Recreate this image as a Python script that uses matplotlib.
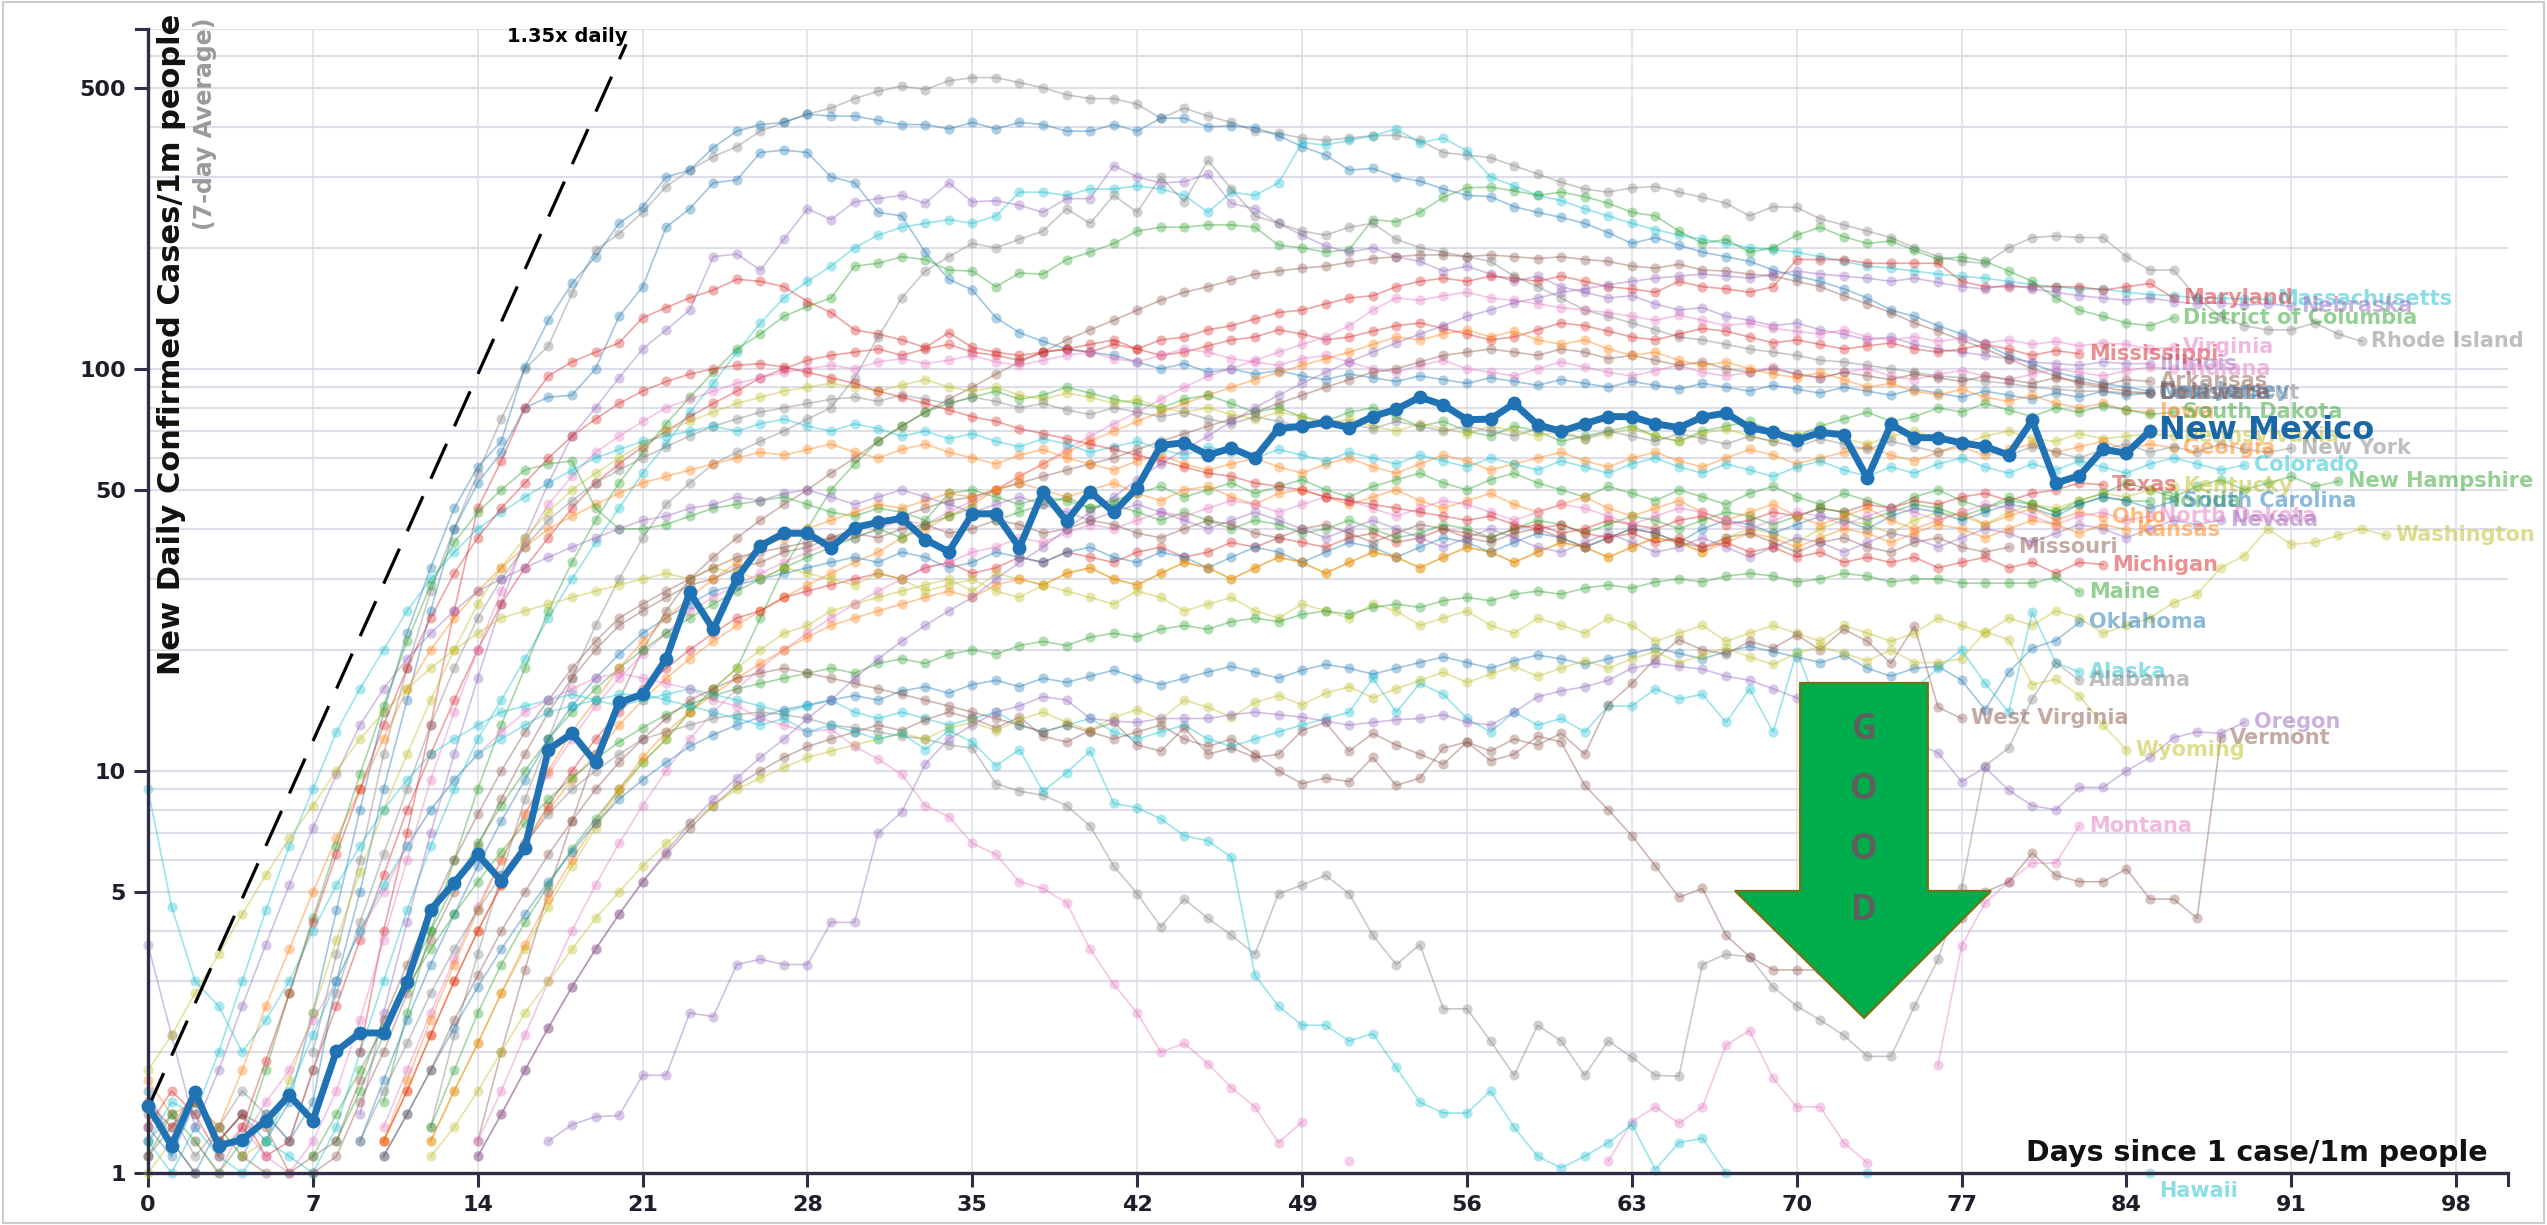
import numpy as np
import matplotlib
matplotlib.use("Agg")
import matplotlib.pyplot as plt
from matplotlib.patches import Polygon, Rectangle
from matplotlib.ticker import FixedLocator, NullFormatter

nan = np.nan

# New daily confirmed cases per 1m people (7-day average), index = days since 1 case/1m
new_mexico = [
    1.47, 1.17, 1.59, 1.17, 1.21, 1.35, 1.56, 1.35, 2.01, 2.23,
    2.23, 2.99, 4.51, 5.27, 6.2, 5.33, 6.43, 11.3, 12.4, 10.5,
    14.8, 15.5, 19.0, 27.8, 22.5, 30.1, 36.3, 39.0, 39.0, 35.9,
    40.3, 41.5, 42.5, 37.6, 35.1, 43.6, 43.6, 35.9, 49.5, 41.8,
    49.5, 44.0, 50.6, 64.5, 65.5, 61.0, 63.5, 60.0, 71.0, 72.0,
    73.6, 71.4, 76.1, 79.3, 85.0, 81.3, 74.7, 75.0, 82.0, 72.6,
    69.9, 73.0, 76.1, 76.0, 73.0, 71.4, 75.9, 77.6, 71.4, 69.5,
    66.4, 69.5, 68.5, 53.5, 72.7, 67.4, 67.4, 65.4, 64.1, 61.0,
    74.4, 52.0, 54.2, 63.0, 61.7, 70.1]

rhode_island = [nan] * 7 + [
    2.0, 3.5, 6, 11, 18, 28, 40, 55, 75, 100,
    114, 154, 197, 217, 245, 284, 312, 337, 357, 390,
    410, 430, 445, 470, 490, 505, 495, 520, 530, 530,
    515, 500, 480, 470, 470, 455, 420, 445, 425, 410,
    390, 385, 375, 370, 375, 380, 381, 370, 345, 340,
    335, 320, 305, 291, 280, 275, 282, 284, 275, 267,
    258, 240, 253, 252, 236, 228, 220, 212, 200, 190,
    185, 183, 200, 212, 214, 212, 212, 190, 176, 176,
    150, 135, 128, 125, 125, 130, 122, 117]
new_jersey = [1.3, 1.1, 1.5, 1.2, 1.4, 1.2] + [
    1.5, 2.5, 4.5, 8, 14, 22, 32, 45, 57, 66,
    101, 132, 163, 190, 230, 253, 300, 312, 355, 390,
    405, 410, 430, 425, 425, 415, 405, 405, 395, 410,
    395, 410, 405, 390, 390, 405, 390, 420, 420, 400,
    402, 398, 380, 357, 340, 312, 315, 300, 293, 280,
    270, 268, 253, 245, 238, 230, 218, 205, 212, 203,
    195, 190, 185, 176, 170, 165, 158, 150, 140, 135,
    128, 122, 115, 108, 103, 98, 95, 92, 90, 88]
louisiana = [1.6, 1.2, 1.0, 1.3, 1.1, 1.4, 1.2] + [
    1.5, 3, 5, 9, 15, 25, 40, 52, 62, 80,
    85, 86, 100, 135, 160, 225, 250, 290, 295, 345,
    350, 345, 300, 290, 245, 240, 195, 167, 157, 134,
    123, 117, 112, 110, 108,
    104, 100, 103, 98, 100, 97, 99, 96, 94, 97,
    95, 93, 96, 94, 92, 95, 93, 91, 94, 92,
    90, 93, 91, 89, 92, 90, 88, 91, 89, 87,
    90, 88, 86, 89, 87, 85, 88, 86, 84, 87,
    85, 88, 86, 87]
massachusetts = [1.2, 1.0, 1.3, 1.1, 1.0, 1.2, 1.1, 1.0] + [
    1.3, 2, 3, 4.5, 6.5, 9, 12, 15, 19, 24,
    30, 37, 45, 55, 65, 78, 92, 110, 130, 150,
    165, 180, 200, 215, 225, 230, 235, 230, 240, 275,
    275, 270, 280, 280, 285, 280, 270, 245, 275, 270,
    290, 365, 360, 370, 380, 395, 365, 375, 348, 300,
    285, 270, 262, 250, 240, 230, 222, 215, 210, 205,
    200, 198, 195, 190, 185, 180, 178, 175, 172, 170,
    168, 165, 162, 160, 158, 158, 155, 153, 152, 150,
    150, 149, 149]
district_of_columbia = [nan] * 10 + [
    1.5, 2.5, 4, 6, 9, 13, 18, 25, 33, 42,
    52, 62, 73, 85, 98, 112, 122, 135, 143, 150,
    180, 183, 190, 187, 176, 175, 160, 173, 172, 187,
    195, 205, 220, 225, 225, 228, 228, 225, 203, 200,
    195, 198, 235, 232, 245, 267, 282, 283, 277, 270,
    275, 268, 258, 245, 240, 220, 205, 210, 195, 200,
    215, 225, 213, 205, 208, 197, 187, 190, 185, 175,
    165, 150, 140, 135, 130, 128, 134]
illinois = [nan] * 9 + [
    1.4, 2.5, 4.2, 7, 11, 17, 26, 38, 52, 68,
    80, 95, 112, 125, 140, 190, 193, 176, 210, 250,
    235, 260, 265, 270, 258, 290, 260, 262, 255, 245,
    265, 265, 320, 300, 290, 292, 305, 258, 250, 230,
    215, 202, 195, 200, 190, 185, 175, 180, 172, 165,
    170, 160, 155, 150, 152, 145, 140, 142, 135, 132,
    128, 130, 125, 122, 118, 120, 115, 112, 110, 108,
    106, 104, 103, 102, 104, 103, 103]
maryland = [nan] * 9 + [
    2.0, 4, 7, 13, 25, 45, 59, 80, 96, 104,
    110, 116, 134, 142, 150, 157, 167, 165, 160, 147,
    138, 125, 122, 118, 113, 123, 113, 110, 108, 110,
    112, 110, 115, 112, 118, 120, 125, 128, 133, 138,
    140, 145, 150, 152, 160, 165, 168, 165, 170, 168,
    165, 170, 165, 160, 158, 155, 165, 160, 158, 155,
    160, 187, 187, 187, 183, 183, 183, 183, 165, 160,
    160, 160, 160, 160, 157, 160, 163, 150]
connecticut = [nan] * 12 + [
    1.3, 2.2, 3.5, 5.5, 8.5, 12, 17, 23, 30, 38,
    46, 52, 58, 62, 66, 70, 75, 80, 95, 120,
    150, 175, 190, 205, 200, 210, 220, 250, 230, 270,
    245, 300, 260, 330, 280, 240, 230, 220, 215, 225,
    230, 210, 200, 195, 190, 185, 170, 160, 150, 140,
    135, 130, 125, 120, 118, 115, 112, 110, 108, 105,
    104, 102, 100, 98, 96, 95, 93, 92, 90, 89,
    88, 88, 87, 87]
delaware = [nan] * 14 + [
    1.2, 2, 3.2, 5, 7.5, 11, 15, 20, 25, 30,
    34, 38, 42, 46, 50, 55, 60, 66, 72, 78,
    84, 90, 97, 104, 110, 118, 125, 132, 140, 148,
    155, 160, 166, 172, 175, 178, 180, 184, 188, 190,
    192, 192, 190, 192, 190, 188, 190, 187, 185, 180,
    178, 182, 176, 175, 172, 170, 165, 160, 152, 145,
    138, 130, 124, 118, 112, 106, 100, 96, 92, 90,
    88, 87]
mississippi = [1.5, 1.3, 1.6, 1.2, 1.4, 1.1] + [
    1.2, 1.8, 2.6, 3.8, 5.5, 8, 11, 15, 20, 26,
    32, 38, 45, 52, 58, 64, 70, 76, 82, 88,
    95, 100, 105, 108, 110, 112, 108, 112, 115, 110,
    108, 105, 110, 112, 115, 118, 112, 108, 110, 114,
    118, 120, 125, 122, 118, 120, 124, 128, 130, 126,
    122, 118, 120, 125, 130, 128, 124, 120, 118, 122,
    126, 124, 120, 116, 118, 115, 112, 114, 116, 112,
    110, 112, 115, 112, 108, 111, 109]
virginia = [nan] * 10 + [
    1.3, 1.8, 2.5, 3.4, 4.6, 6, 7.8, 9.8, 12, 14.5,
    17, 19.5, 22, 25, 27, 29, 31, 33, 35, 37,
    38, 40, 42, 41, 44, 47, 50, 54, 58, 63,
    68, 73, 78, 84, 90, 96, 100, 105, 110, 115,
    120, 128, 140, 150, 148, 152, 155, 150, 148, 145,
    142, 140, 138, 135, 132, 136, 132, 128, 130, 126,
    124, 122, 125, 120, 118, 120, 117, 119, 116, 118,
    115, 117, 114, 116, 115, 112, 113]
indiana = [1.1, nan, 1.2, 1.0, 1.3, 1.1, 1.0] + [
    1.2, 1.6, 2.4, 3.8, 6, 9.5, 14, 20, 28, 37,
    46, 54, 62, 68, 74, 80, 84, 88, 92, 95,
    98, 100, 102, 100, 104, 106, 103, 105, 108, 104,
    102, 105, 108, 110, 106, 104, 108, 112, 110, 106,
    104, 102, 106, 108, 104, 100, 98, 102, 105, 100,
    98, 96, 100, 104, 101, 98, 96, 99, 102, 98,
    96, 98, 101, 97, 95, 98, 100, 96, 94, 97,
    99, 96, 94, 97, 100, 98, 96, 99, 101, 100]
arkansas = [1.4, 1.2, 1.0, nan, 1.1, 1.0, nan, 1.0] + [
    1.1, 1.5, 2, 2.8, 3.8, 5, 6.5, 8.5, 11, 14,
    17, 20, 23, 25, 27, 29, 30, 32, 33, 35,
    36, 38, 40, 42, 43, 45, 47, 48, 50, 52,
    54, 56, 58, 60, 63, 66, 69, 72, 75, 78,
    82, 86, 90, 94, 98, 100, 104, 108, 110, 112,
    110, 108, 112, 110, 106, 108, 105, 102, 104, 100,
    98, 100, 97, 95, 98, 96, 94, 97, 95, 93,
    96, 94, 92, 95, 93, 91, 94, 93]
iowa = [nan] * 10 + [
    1.2, 1.6, 2.2, 3, 4, 5.2, 6.5, 8, 9.5, 11,
    13, 15, 17, 19, 21, 23, 25, 27, 29, 31,
    33, 35, 38, 40, 43, 46, 50, 54, 58, 62,
    66, 70, 74, 78, 82, 86, 90, 94, 98, 102,
    106, 110, 115, 120, 118, 122, 125, 120, 124, 118,
    115, 118, 112, 108, 110, 105, 102, 104, 100, 97,
    95, 98, 94, 90, 92, 88, 86, 89, 85, 83,
    86, 82, 80, 82, 79, 78]
south_dakota = [nan] * 12 + [
    1.3, 1.8, 2.5, 3.3, 4.2, 5.2, 6.4, 7.6, 9, 10.5,
    12, 14, 16, 18, 24, 32, 40, 50, 58, 66,
    72, 78, 82, 85, 88, 84, 86, 90, 87, 84,
    82, 80, 84, 86, 82, 78, 80, 76, 74, 78,
    80, 76, 72, 74, 70, 68, 72, 70, 66, 68,
    70, 72, 68, 66, 70, 72, 74, 70, 68, 72,
    75, 78, 74, 76, 80, 78, 82, 79, 76, 80,
    78, 81, 79, 77, 78]
pennsylvania = [1.0, 1.2, 1.5, 1.3, 1.1] + [
    1.2, 1.7, 2.5, 3.8, 5.6, 8, 11, 15, 20, 26,
    32, 38, 44, 50, 55, 60, 65, 70, 74, 78,
    82, 85, 88, 90, 92, 90, 88, 91, 94, 90,
    88, 90, 86, 84, 87, 85, 82, 84, 80, 78,
    80, 77, 75, 78, 76, 73, 75, 72, 70, 73,
    71, 69, 72, 70, 68, 70, 67, 69, 71, 68,
    66, 69, 71, 68, 66, 68, 70, 67, 65, 68,
    70, 67, 65, 68, 70, 67, 66, 69, 67, 68,
    69, 68]
georgia = [1.7, 1.4, 1.5] + [
    1.3, 1.8, 2.6, 3.6, 5, 6.8, 9, 12, 16, 20,
    24, 28, 32, 36, 40, 43, 46, 49, 52, 54,
    56, 58, 60, 62, 61, 63, 65, 62, 60, 63,
    65, 62, 60, 58, 61, 63, 60, 58, 56, 59,
    61, 58, 56, 58, 60, 57, 55, 58, 60, 57,
    55, 58, 61, 59, 56, 58, 60, 62, 59, 57,
    60, 62, 59, 57, 60, 63, 61, 58, 60, 62,
    64, 61, 59, 62, 64, 61, 63, 65, 62, 64,
    66, 63, 65, 63.5]
new_york = [1.2, 1.4, 1.1, 1.3, 1.6, 1.4] + [
    1.2, 1.8, 2.8, 4.2, 6.2, 9, 13, 18, 24, 30,
    36, 42, 47, 52, 56, 60, 64, 68, 72, 75,
    78, 80, 82, 84, 85, 83, 86, 84, 82, 85,
    83, 80, 82, 79, 77, 80, 78, 76, 78, 75,
    73, 76, 74, 72, 75, 73, 71, 74, 72, 70,
    72, 70, 68, 71, 69, 67, 70, 68, 66, 69,
    67, 65, 68, 66, 64, 67, 65, 63, 66, 64,
    62, 65, 63, 61, 64, 62, 60, 63, 65, 62,
    64, 62, 65, 63, 62, 63.5]
colorado = [1.2, 1.5] + [
    1.4, 2, 3, 4.5, 6.5, 9, 12.5, 16, 20, 25,
    30, 35, 40, 44, 48, 52, 56, 60, 63, 66,
    68, 70, 72, 70, 73, 75, 72, 70, 73, 71,
    68, 70, 67, 69, 66, 64, 67, 65, 62, 64,
    66, 63, 61, 64, 62, 60, 63, 61, 59, 62,
    60, 58, 61, 59, 57, 60, 58, 56, 59, 57,
    55, 58, 60, 57, 55, 58, 56, 54, 57, 59,
    56, 54, 57, 55, 58, 60, 57, 55, 58, 56,
    59, 57, 55, 58, 60, 58, 56, 57.6]
new_hampshire = [nan] * 8 + [
    1.2, 1.6, 2.2, 3, 4, 5.2, 6.6, 8.2, 10, 12,
    14, 16, 18, 20, 22, 24, 26, 28, 30, 32,
    34, 36, 38, 40, 38, 41, 43, 45, 42, 44,
    46, 48, 45, 47, 49, 51, 48, 50, 52, 49,
    51, 53, 50, 48, 51, 53, 55, 52, 50, 53,
    55, 52, 50, 48, 51, 49, 47, 50, 48, 46,
    49, 51, 48, 46, 49, 47, 45, 48, 50, 47,
    45, 48, 46, 44, 47, 49, 52, 50, 48, 51,
    53, 50, 52, 54, 51, 52.5]
texas = [nan] * 10 + [
    1.2, 1.6, 2.2, 3, 4, 5.2, 6.6, 8.2, 10, 12,
    14, 16, 18, 20, 22, 24, 25, 27, 28, 29,
    30, 31, 30, 32, 33, 31, 32, 34, 33, 35,
    34, 33, 35, 36, 34, 35, 37, 36, 38, 37,
    36, 38, 39, 37, 38, 40, 39, 38, 40, 41,
    39, 40, 42, 41, 40, 42, 43, 41, 42, 44,
    43, 45, 44, 46, 45, 47, 46, 48, 49, 47,
    49, 50, 52, 51.5]
kentucky = [nan] * 12 + [
    1.2, 1.6, 2.1, 2.8, 3.6, 4.6, 5.8, 7.2, 8.8, 10.5,
    12, 14, 16, 18, 20, 22, 23, 25, 26, 27,
    28, 29, 30, 28, 31, 30, 29, 31, 32, 30,
    29, 31, 33, 32, 30, 32, 34, 33, 31, 33,
    35, 34, 32, 34, 36, 35, 33, 35, 37, 36,
    34, 36, 38, 37, 35, 38, 40, 39, 37, 40,
    42, 41, 39, 42, 44, 43, 41, 44, 46, 45,
    47, 49, 48, 50, 51]
florida = [1.1, 1.4, 1.2, 1.0] + [
    1.2, 1.8, 2.8, 4.3, 6.5, 9.8, 14.5, 21, 29, 37,
    44, 50, 56, 58, 59, 45, 40, 40, 41, 43,
    45, 46, 47, 48, 46, 44, 43, 45, 44, 42,
    49, 50, 48, 46, 48, 47, 45, 46, 44, 42,
    44, 42, 40, 42, 41, 39, 40, 42, 40, 38,
    39, 41, 40, 38, 40, 42, 41, 39, 41, 43,
    42, 40, 42, 44, 43, 41, 43, 45, 44, 42,
    44, 46, 45, 43, 45, 47, 46, 44, 46, 48,
    47, 46.8]
south_carolina = [nan] * 9 + [
    1.2, 1.7, 2.4, 3.3, 4.4, 5.8, 7.5, 9.5, 12, 14.5,
    17, 19.5, 22, 24, 26, 28, 29, 30, 31, 32,
    33, 34, 33, 35, 34, 32, 33, 35, 34, 33,
    35, 36, 34, 33, 35, 34, 32, 34, 36, 35,
    33, 35, 37, 36, 34, 36, 38, 37, 35, 37,
    39, 38, 36, 38, 40, 39, 37, 40, 42, 41,
    39, 41, 43, 42, 40, 43, 45, 44, 42, 44,
    46, 45, 43, 46, 48, 47, 45, 46.8]
ohio = [nan] * 10 + [
    1.2, 1.7, 2.4, 3.3, 4.5, 6, 7.8, 10, 12.5, 15,
    18, 21, 24, 27, 30, 33, 36, 38, 40, 42,
    44, 46, 45, 47, 49, 48, 50, 52, 50, 48,
    50, 52, 49, 47, 50, 51, 48, 46, 49, 50,
    48, 46, 48, 50, 47, 45, 47, 49, 46, 44,
    46, 48, 45, 43, 45, 47, 44, 42, 44, 46,
    43, 41, 43, 45, 42, 40, 42, 44, 41, 43,
    45, 42, 44, 42.7]
north_dakota = [nan] * 14 + [
    1.2, 1.6, 2.2, 3, 4, 5.2, 6.6, 8.2, 10, 12,
    14, 16, 18, 20, 22, 24, 26, 28, 30, 32,
    33, 35, 36, 38, 37, 39, 41, 40, 42, 44,
    43, 45, 47, 46, 44, 46, 48, 47, 45, 43,
    45, 47, 46, 44, 42, 44, 46, 45, 43, 41,
    43, 45, 44, 42, 40, 42, 44, 43, 41, 43,
    45, 44, 42, 44, 46, 45, 43, 41, 43, 44,
    42, 43]
nevada = [3.7, 2.2] + [
    1.3, 1.8, 2.6, 3.7, 5.2, 7.2, 9.8, 13, 16, 19,
    22, 25, 28, 30, 32, 34, 36, 38, 40, 42,
    43, 45, 46, 48, 47, 49, 50, 48, 46, 48,
    50, 48, 46, 44, 46, 48, 46, 44, 42, 44,
    46, 44, 42, 40, 42, 44, 42, 40, 38, 40,
    42, 40, 38, 36, 38, 40, 38, 36, 35, 37,
    39, 37, 35, 36, 38, 36, 34, 36, 38, 37,
    35, 37, 39, 38, 36, 38, 40, 39, 37, 39,
    41, 40, 38, 40, 42, 41, 42]
kansas = [nan] * 12 + [
    1.2, 1.6, 2.1, 2.8, 3.7, 4.8, 6, 7.4, 9, 10.8,
    12.5, 14, 15.5, 17, 18.5, 20, 21.5, 23, 24, 25,
    26, 27, 28, 27, 29, 30, 29, 31, 32, 30,
    29, 31, 33, 32, 30, 32, 34, 33, 31, 33,
    35, 34, 32, 34, 36, 35, 33, 35, 37, 36,
    34, 36, 38, 37, 35, 37, 39, 38, 36, 38,
    40, 39, 37, 39, 41, 40, 38, 40, 42, 41,
    39, 41, 39.8]
washington = [
    1.8, 2.2, 2.8, 3.5, 4.4, 5.5, 6.8, 8.2, 10, 12,
    14, 16, 18, 20, 22, 24, 25, 26, 27, 28,
    29, 30, 31, 30, 32, 31, 30, 32, 31, 30,
    29, 31, 30, 28, 29, 30, 28, 27, 29, 28,
    27, 26, 28, 27, 25, 26, 27, 25, 24, 26,
    25, 24, 26, 25, 23, 24, 25, 23, 22, 24,
    23, 22, 24, 23, 21, 22, 23, 21, 22, 23,
    22, 21, 23, 22, 21, 22, 24, 23, 22, 24,
    23, 25, 24, 22, 23, 24, 26.2, 27.5, 32, 34.3,
    40, 36.6, 37, 38.5, 40, 38.5]
missouri = [1.1, 1.3, 1.5, 1.2, 1.4, 1.3, 1.0, 1.1] + [
    1.2, 1.7, 2.4, 3.3, 4.5, 6, 7.8, 10, 12.5, 15,
    18, 21, 24, 26, 28, 30, 32, 34, 35, 36,
    37, 38, 39, 38, 40, 41, 39, 40, 42, 41,
    39, 40, 42, 41, 39, 38, 40, 42, 41, 39,
    38, 40, 41, 39, 37, 39, 41, 40, 38, 37,
    39, 40, 38, 36, 38, 40, 39, 37, 36, 38,
    39, 37, 35, 37, 38, 36, 35, 37, 38, 36,
    35, 36]
michigan = [1.3, 1.6, 1.4, 1.1] + [
    1.3, 1.9, 2.8, 4.2, 6.2, 9, 13, 18, 24, 31,
    38, 45, 52, 60, 68, 75, 82, 88, 93, 97,
    100, 102, 103, 101, 98, 95, 92, 88, 85, 82,
    79, 76, 74, 71, 69, 67, 65, 63, 61, 59,
    57, 55, 54, 52, 51, 50, 48, 47, 46, 45,
    44, 43, 42, 43, 41, 40, 41, 39, 38, 39,
    37, 38, 36, 37, 35, 36, 34, 35, 33, 34,
    33, 34, 32, 33, 34, 32, 33, 31, 33, 32.6]
maine = [nan] * 7 + [
    1.1, 1.4, 1.8, 2.3, 2.9, 3.6, 4.4, 5.3, 6.3, 7.4,
    8.5, 9.6, 10.7, 11.8, 12.8, 13.8, 14.6, 15.4, 16, 16.5,
    17, 17.5, 18, 17.5, 18.5, 19, 18.5, 19.5, 20, 19.5,
    20.5, 21, 20.5, 21.5, 22, 21.5, 22.5, 23, 22.5, 23.5,
    24, 23.5, 24.5, 25, 24.5, 25.5, 26, 25.5, 26.5, 27,
    26.5, 27.5, 28, 27.5, 28.5, 29, 28.5, 29.5, 30, 29.5,
    30.5, 31, 30.5, 29.5, 30, 31, 30.5, 29.5, 30, 30,
    29.3, 29.3, 29.3, 29.3, 30.3, 27.9]
oklahoma = [nan] * 10 + [
    1.1, 1.4, 1.8, 2.3, 2.9, 3.6, 4.4, 5.3, 6.3, 7.4,
    8.5, 9.5, 10.5, 11.5, 12.3, 13, 13.6, 14.2, 14.6, 15,
    15.4, 15, 15.8, 16.2, 15.6, 16.4, 16.8, 16.2, 17, 16.6,
    17.2, 17.8, 17, 16.4, 17, 17.6, 18.2, 17.6, 17, 17.8,
    18.4, 18, 17.4, 18, 18.6, 19.2, 18.6, 18, 18.8, 19.4,
    19, 18.4, 19, 19.6, 20.2, 19.6, 19, 19.8, 20.4, 19.8,
    19.2, 18.6, 19.4, 18, 17.2, 18, 18.2, 16.8, 14.2, 17.6,
    20.2, 21.1, 23.4]
alaska = [
    9.0, 4.6, 3.0, 2.6, 2.0, 2.4, 3.0, 4.0, 5.2, 6.5,
    8, 9.5, 11, 12, 13, 14, 14.5, 15, 15.5, 15,
    14.5, 15, 15.5, 16, 15.5, 15, 14.5, 14, 14.5, 15,
    14, 13.5, 14, 13.5, 13, 13.5, 14, 13, 12.5, 13,
    13.5, 12.5, 12, 12.5, 13, 12, 11.5, 12, 12.5, 13,
    13.5, 14, 17, 14, 16.5, 15.5, 13.5, 12.5, 14, 13,
    13.5, 12.5, 14.5, 14.5, 16, 15.1, 15.5, 13.2, 16, 12.5,
    19.8, 14, 13, 12, 14, 16, 18, 20, 16.5, 14,
    24.8, 18.6, 17.6]
alabama = [nan] * 9 + [
    1.2, 1.6, 2.1, 2.8, 3.6, 4.5, 5.5, 6.6, 7.8, 9,
    10, 11, 12, 12.5, 13, 13.5, 13.8, 14, 13.8, 13.5,
    13, 12.8, 12.5, 12.2, 12, 11.6, 11.4, 9.3, 8.9, 8.7,
    8.2, 7.3, 5.8, 4.95, 4.1, 4.8, 4.3, 3.9, 3.5, 4.95,
    5.2, 5.5, 4.95, 3.9, 3.3, 3.7, 2.56, 2.56, 2.13, 1.75,
    2.33, 2.13, 1.75, 2.13, 1.94, 1.75, 1.74, 3.3, 3.5, 3.45,
    2.9, 2.6, 2.4, 2.2, 1.95, 1.95, 2.6, 3.4, 5.1, 10.3,
    11.4, 15.1, 18.6, 16.8]
west_virginia = [nan] * 14 + [
    1.1, 1.4, 1.8, 2.3, 2.9, 3.6, 4.4, 5.3, 6.2, 7.2,
    8.2, 9.2, 10, 10.8, 11.5, 12, 12.5, 13, 12.6, 13.4,
    14, 13.5, 12.8, 13.6, 12.2, 11.8, 12.6, 13.2, 11.6, 11.2,
    12.8, 11, 11.4, 10.8, 11, 12.6, 13.2, 11.2, 12.4, 11.6,
    11, 10.4, 11.8, 11.2, 12, 11.6, 12.4, 11, 14.6, 16.5,
    19, 21.2, 20, 19.5, 21, 20.2, 21.8, 20, 22.5, 21,
    18.5, 22.9, 14.4, 13.5]
wyoming = [nan] * 12 + [
    1.1, 1.3, 1.6, 2, 2.5, 3, 3.6, 4.3, 5, 5.8,
    6.6, 7.4, 8.2, 9, 9.6, 10.2, 10.8, 11.2, 11.6, 12,
    12.4, 12, 12.8, 13.2, 12.6, 13.4, 14, 13.2, 12.6, 13.6,
    14.2, 13.4, 15, 14.4, 13.6, 14.8, 15.4, 14.6, 15.6, 16.2,
    15.2, 16, 16.8, 17.6, 16.6, 17.4, 18.2, 17.2, 18, 18.8,
    18, 19, 19.8, 18.6, 19.4, 20.2, 19.2, 18.4, 19.6, 20.4,
    19.6, 18.8, 20, 18.6, 18.6, 19, 22.2, 21.2, 16.4, 16.9,
    15.4, 13, 11.3]
montana = [nan] * 4 + [
    1.2, 1.5, 1.8, 2.4, 3, 4, 5, 6.5, 8, 9.5,
    11, 12.5, 14, 15, 16, 17, 17.5, 17, 16.5, 16,
    15, 14.5, 13.5, 13, 12.5, 12.7, 11.5, 10.7, 9.8, 8.2,
    7.7, 6.6, 6.2, 5.3, 5.1, 4.7, 3.6, 2.95, 2.5, 2.0,
    2.1, 1.87, 1.63, 1.46, 1.19, 1.34, nan, 1.07, nan, nan,
    nan, nan, nan, nan, nan, nan, nan, nan, 1.07, 1.34,
    1.46, 1.33, 1.46, 2.08, 2.26, 1.72, 1.46, 1.46, 1.19, 1.06,
    nan, nan, 1.86, 3.67, 4.7, 5.3, 5.9, 5.9, 7.3]
hawaii = [nan] * 5 + [
    1.2, 1.6, 2.2, 3, 4, 5.2, 6.5, 8, 9.5, 11,
    12, 13, 14, 14.5, 15, 15.5, 15.5, 15, 14.5, 14,
    13.5, 13, 13.5, 12.5, 13, 12.5, 12, 12.4, 11.3, 12.6,
    11.8, 10.3, 11.3, 8.9, 9.9, 11.2, 8.3, 8.1, 7.6, 6.9,
    6.7, 6.1, 3.1, 2.6, 2.33, 2.33, 2.13, 2.22, 1.83, 1.5,
    1.41, 1.41, 1.6, 1.3, 1.1, 1.03, 1.1, 1.19, 1.32, 1.02,
    1.19, 1.22, 1.0, nan, nan, nan, nan, nan, 1.0, nan,
    nan, nan, nan, nan, nan, nan, nan, nan, nan, nan, 1.0]
vermont = [nan] * 10 + [
    1.1, 1.4, 1.8, 2.4, 3.1, 4, 5, 6.2, 7.5, 9,
    10.5, 12, 13.5, 15, 16, 17, 17.5, 18, 17.5, 17,
    16.5, 16, 15.5, 15, 14.5, 14, 13.5, 13, 12.5, 13,
    12.5, 12, 12.5, 13, 12, 11.5, 12, 11, 10, 9.3,
    9.6, 9.4, 10.8, 9.2, 9.6, 11.4, 11.8, 10.6, 11, 12.2,
    11.8, 9.2, 8.0, 6.9, 5.8, 4.85, 5.1, 3.9, 3.45, 3.2,
    3.2, 3.2, 3.4, 3.5, 3.6, 3.7, 3.9, 4.3, 5.0, 5.3,
    6.25, 5.5, 5.3, 5.3, 5.7, 4.8, 4.8, 4.3, 12.1]
oregon = [nan] * 17 + [
    1.2, 1.32, 1.38, 1.39, 1.75, 1.75, 2.5, 2.45, 3.3, 3.4,
    3.3, 3.3, 4.2, 4.2, 7.0, 7.9, 10.4, 12, 13, 14,
    14.5, 15.3, 15, 13.5, 13.3, 13.2, 13.5, 13.5, 13.5, 13.8,
    14, 13.8, 13.6, 13.3, 13, 13.2, 13.4, 13.5, 13.8, 13.2,
    13, 14, 15.3, 15.8, 16.2, 16.8, 18, 18.5, 18.2, 17.9,
    17.2, 16.8, 16, 15.2, 14.5, 13.8, 13, 12.3, 11.7, 11.1,
    9.4, 10.2, 8.95, 8.2, 8.0, 9.1, 9.1, 10.0, 10.8, 12.1,
    12.5, 12.4, 13.2]
nebraska = [nan] * 14 + [
    1.1, 1.4, 1.8, 2.3, 2.9, 3.6, 4.4, 5.3, 6.3, 7.4,
    8.5, 9.6, 10.8, 12, 13.5, 15, 17, 19, 21, 23,
    25, 27, 30, 33, 36, 40, 44, 48, 53, 58,
    63, 68, 74, 80, 86, 92, 98, 104, 110, 116,
    122, 128, 135, 140, 146, 150, 155, 158, 162, 165,
    168, 170, 172, 170, 168, 172, 175, 172, 170, 168,
    165, 168, 164, 160, 158, 162, 158, 155, 152, 150,
    148, 150, 147, 145, 146, 144, 145, 143]

TAB = {"blue": "#1f77b4", "orange": "#ff7f0e", "green": "#2ca02c", "red": "#d62728",
       "purple": "#9467bd", "brown": "#8c564b", "pink": "#e377c2", "gray": "#7f7f7f",
       "olive": "#bcbd22", "cyan": "#17becf"}

states = [
    ("Rhode Island", rhode_island, "gray"),
    ("New Jersey", new_jersey, "blue"),
    ("Louisiana", louisiana, "blue"),
    ("Massachusetts", massachusetts, "cyan"),
    ("District of Columbia", district_of_columbia, "green"),
    ("Illinois", illinois, "purple"),
    ("Maryland", maryland, "red"),
    ("Connecticut", connecticut, "gray"),
    ("Delaware", delaware, "brown"),
    ("Mississippi", mississippi, "red"),
    ("Virginia", virginia, "pink"),
    ("Indiana", indiana, "pink"),
    ("Arkansas", arkansas, "brown"),
    ("Iowa", iowa, "orange"),
    ("South Dakota", south_dakota, "green"),
    ("Pennsylvania", pennsylvania, "olive"),
    ("Georgia", georgia, "orange"),
    ("New York", new_york, "gray"),
    ("Colorado", colorado, "cyan"),
    ("New Hampshire", new_hampshire, "green"),
    ("Texas", texas, "red"),
    ("Kentucky", kentucky, "olive"),
    ("Florida", florida, "green"),
    ("South Carolina", south_carolina, "blue"),
    ("Ohio", ohio, "orange"),
    ("North Dakota", north_dakota, "pink"),
    ("Nevada", nevada, "purple"),
    ("Kansas", kansas, "orange"),
    ("Washington", washington, "olive"),
    ("Missouri", missouri, "brown"),
    ("Michigan", michigan, "red"),
    ("Maine", maine, "green"),
    ("Oklahoma", oklahoma, "blue"),
    ("Alaska", alaska, "cyan"),
    ("Alabama", alabama, "gray"),
    ("West Virginia", west_virginia, "brown"),
    ("Wyoming", wyoming, "olive"),
    ("Montana", montana, "pink"),
    ("Hawaii", hawaii, "cyan"),
    ("Vermont", vermont, "brown"),
    ("Oregon", oregon, "purple"),
    ("Nebraska", nebraska, "purple"),
]

y_ticks = [1, 5, 10, 50, 100, 500]
x_ticks = list(range(0, 99, 7))
growth = 1.35

W, H = 2547, 1225
fig = plt.figure(figsize=(W / 100, H / 100), dpi=100)
fig.patch.set_facecolor("white")
ax = fig.add_axes([148 / W, 1 - 1173 / H, (2508 - 148) / W, (1173 - 29) / H])
ax.set_yscale("log")
ax.set_xlim(0, 100.2)
ax.set_ylim(1, 700)

# grid: weekly verticals, every log step horizontally
minor = [m * 10 ** e for e in range(3) for m in range(2, 10) if m * 10 ** e <= 700]
ax.yaxis.set_major_locator(FixedLocator(y_ticks))
ax.yaxis.set_minor_locator(FixedLocator(minor))
ax.yaxis.set_minor_formatter(NullFormatter())
ax.set_yticklabels([str(t) for t in y_ticks])
ax.set_xticks(x_ticks)
ax.grid(True, which="both", axis="y", color="#dedee8", lw=1.5)
ax.grid(True, which="major", axis="x", color="#dedee8", lw=1.1)
ax.set_axisbelow(True)

spine_c = "#2e2e48"
for s in ("top", "right"):
    ax.spines[s].set_visible(False)
for s in ("left", "bottom"):
    ax.spines[s].set_color(spine_c)
    ax.spines[s].set_linewidth(2.4)
ax.tick_params(which="major", direction="out", length=10, width=2.2, color=spine_c,
               labelsize=16, labelcolor="#1e1e2a", pad=6)
ax.tick_params(axis="y", which="minor", length=0)
for lab in ax.get_xticklabels() + ax.get_yticklabels():
    lab.set_fontweight("bold")
# outer ticks at the ends of both axes
ax.plot([100.2, 100.2], [1, 0.935], color=spine_c, lw=2.2, clip_on=False)
ax.plot([0, -0.5], [700, 700], color=spine_c, lw=2.2, clip_on=False)

# background states
for name, vals, cname in states:
    y = np.array(vals, dtype=float)
    d = np.arange(len(y))
    c = TAB[cname]
    ax.plot(d, y, "-", color=c, lw=1.2, alpha=0.42, zorder=2, clip_on=False)
    ax.plot(d, y, "o", color=c, ms=7.3, alpha=0.36, mec="none", zorder=2, clip_on=False)
    last = np.where(~np.isnan(y))[0][-1]
    ty = y[last] if y[last] > 1.05 else 0.9
    ax.text(last + 0.4, ty, name, color=c, alpha=0.5, fontsize=15, fontweight="bold",
            ha="left", va="center", zorder=3, clip_on=False)

# highlighted state
nm = np.array(new_mexico)
ax.plot(np.arange(len(nm)), nm, "-o", color="#1f72b4", lw=5, ms=10, mec="none",
        zorder=6, clip_on=False)
ax.text(len(nm) - 1 + 0.4, nm[-1], "New Mexico", color="#1a67a6", fontsize=23,
        fontweight="bold", ha="left", va="center", zorder=7)

# 1.35x daily reference
gx = np.array([0, 20.3])
ax.plot(gx, 1.45 * growth ** gx, color="black", lw=2.3, dashes=(12, 6), zorder=5,
        clip_on=False)
ax.text(20.35, 670, "1.35x daily", ha="right", va="center", fontsize=14,
        fontweight="bold", color="black", zorder=5)

# "GOOD" arrow
arrow = Polygon([(70.14, 16.55), (75.57, 16.55), (75.57, 5.03), (78.25, 5.03),
                 (72.86, 2.43), (67.38, 5.03), (70.14, 5.03)],
                closed=True, facecolor="#00ad4d", edgecolor="#7a6f12", lw=1.5, zorder=8)
ax.add_patch(arrow)
for letter, ly in zip("GOOD", [12.64, 8.97, 6.34, 4.48]):
    ax.text(72.86, ly, letter, ha="center", va="center", fontsize=25, fontweight="bold",
            family="Open Sans", color="#5f5f5f", zorder=9)

# axis titles
fig.text(172 / W, 1 - 14 / H, "New Daily Confirmed Cases/1m people", rotation=90,
         ha="center", va="top", fontsize=22, fontweight="bold", color="#111111")
fig.text(205 / W, 1 - 18 / H, "(7-day Average)", rotation=90, ha="center", va="top",
         fontsize=17, fontweight="bold", color="#9a9a9a")
fig.text(2488 / W, 1 - 1161 / H, "Days since 1 case/1m people", ha="right",
         va="baseline", fontsize=20.5, fontweight="bold", color="#111111")

fig.add_artist(Rectangle((0.001, 0.002), 0.998, 0.996, transform=fig.transFigure,
                         fill=False, ec="#cccccc", lw=1.5))

fig.savefig("out.png", dpi=100)
